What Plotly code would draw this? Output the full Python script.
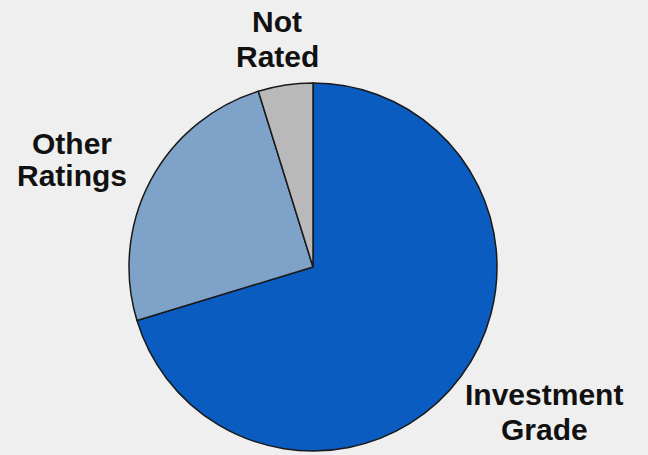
import plotly.graph_objects as go

labels = ["Investment Grade", "Other Ratings", "Not Rated"]
values = [70.3, 24.9, 4.8]
colors = ["#0a5cc0", "#7ea2c8", "#b9b9b9"]

# label lines and their centre positions (pixels)
label_lines = [["Investment", "Grade"], ["Other", "Ratings"], ["Not", "Rated"]]
label_pos = [[(544, 392), (544, 427)], [(72, 141), (72, 174)], [(277, 19), (277, 54)]]

W, H = 648, 455

fig = go.Figure(go.Pie(
    labels=labels, values=values, sort=False, direction="clockwise", rotation=0,
    marker=dict(colors=colors, line=dict(color="#1a1a1a", width=1.5)),
    textinfo="none", hoverinfo="label+percent", showlegend=False,
    domain=dict(x=[129 / W, 497 / W], y=[1 - 451 / H, 1 - 83 / H]),
))

for lines, poss in zip(label_lines, label_pos):
    for t, (x, y) in zip(lines, poss):
        fig.add_annotation(x=x / W, y=1 - (y + 2) / H, xref="paper", yref="paper",
                           text="<b>" + t + "</b>", showarrow=False,
                           font=dict(family="Liberation Sans, Arial, sans-serif", size=30, color="#111111"),
                           align="center", xanchor="center", yanchor="middle")

fig.update_layout(width=W, height=H, margin=dict(l=0, r=0, t=0, b=0),
                  paper_bgcolor="#efefef", plot_bgcolor="#efefef")
fig.write_html("out.html", config={"displayModeBar": False},
               post_script="document.body.style.margin='0';document.body.style.background='#efefef';")
